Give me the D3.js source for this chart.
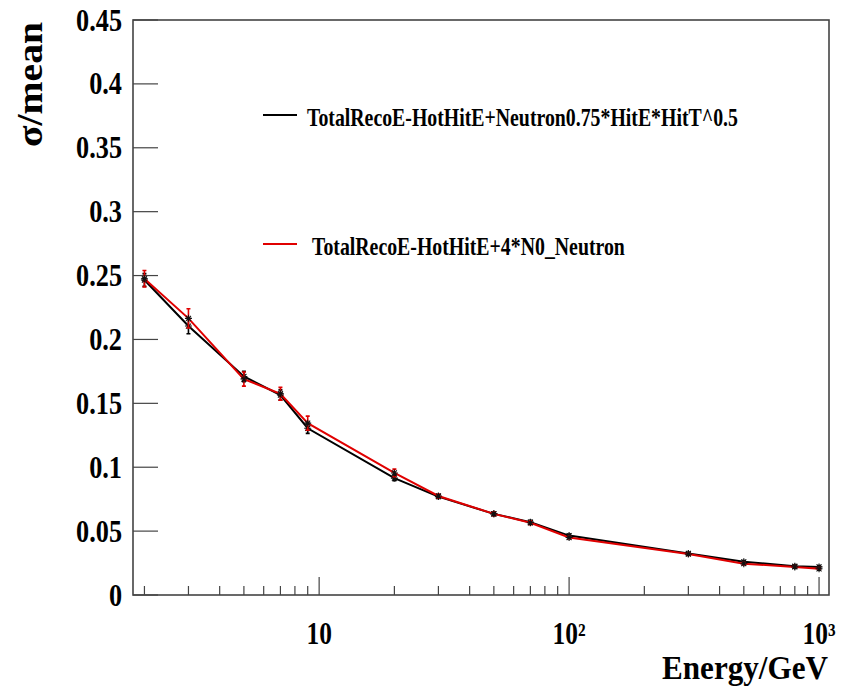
<!DOCTYPE html>
<html><head><meta charset="utf-8">
<script src="https://cdn.jsdelivr.net/npm/d3@7"></script>
<style>body{margin:0;background:#fff}svg{display:block}text{font-family:"Liberation Serif","Times New Roman",serif;font-weight:bold;fill:#000}</style>
</head><body><svg id="c" width="852" height="691"></svg>
<script>
const energies = [2, 3, 5, 7, 9, 20, 30, 50, 70, 100, 300, 500, 800, 1000];
const blackValues = [0.2465, 0.2105, 0.171, 0.1565, 0.1305, 0.0915, 0.077, 0.0635, 0.057, 0.0465, 0.0325, 0.026, 0.0225, 0.022];
const blackErrors = [0.005, 0.006, 0.004, 0.004, 0.004, 0.002, 0.0015, 0.0015, 0.0015, 0.0012, 0.001, 0.001, 0.001, 0.001];
const redValues = [0.2475, 0.2165, 0.169, 0.1575, 0.1345, 0.0955, 0.0775, 0.0635, 0.0565, 0.045, 0.032, 0.0245, 0.022, 0.0205];
const redErrors = [0.0065, 0.0075, 0.0055, 0.005, 0.0055, 0.003, 0.0015, 0.0015, 0.0015, 0.0012, 0.001, 0.001, 0.001, 0.001];
const yTicks = [0, 0.05, 0.1, 0.15, 0.2, 0.25, 0.3, 0.35, 0.4, 0.45];
const yTickLabels = ["0", "0.05", "0.1", "0.15", "0.2", "0.25", "0.3", "0.35", "0.4", "0.45"];
const xMajor = [10, 100, 1000];
const xMajorLabels = ["10", "10²", "10³"];
const legendLabels = ["TotalRecoE-HotHitE+Neutron0.75*HitE*HitT^0.5", "TotalRecoE-HotHitE+4*N0_Neutron"];
const seriesColors = ["#000000", "#e00000"];
const xTitle = "Energy/GeV";
const yTitle = "σ/mean";

const svg = d3.select("#c");
const L = 133, R = 829, T = 20, B = 595;
const x = d3.scaleLog().domain([1.8, 1096]).range([L, R]);
const y = d3.scaleLinear().domain([0, 0.45]).range([B, T]);

function squeeze(sel, k) {
  sel.each(function () {
    const len = this.getComputedTextLength();
    d3.select(this).attr("textLength", len * k).attr("lengthAdjust", "spacingAndGlyphs");
  });
}
function fitTo(sel, w) {
  sel.attr("textLength", w).attr("lengthAdjust", "spacingAndGlyphs");
}

const axisColor = "#444";
svg.append("rect").attr("x", L).attr("y", T).attr("width", R - L).attr("height", B - T)
  .attr("fill", "none").attr("stroke", axisColor).attr("stroke-width", 1.6);

svg.selectAll(".yt").data(yTicks).enter().append("line")
  .attr("x1", L).attr("x2", L + 25).attr("y1", d => y(d)).attr("y2", d => y(d))
  .attr("stroke", axisColor).attr("stroke-width", 1.2);
const yl = svg.selectAll(".yl").data(yTicks).enter().append("text")
  .attr("x", 122).attr("y", d => y(d) + 10.5).attr("text-anchor", "end")
  .attr("font-size", 32).text((d, i) => yTickLabels[i]);
squeeze(yl, 0.82);

const minor = [];
for (let dec = 1; dec <= 1000; dec *= 10) {
  for (let m = 1; m <= 9; m++) {
    const v = m * dec;
    if (v >= 1.8 && v <= 1096) minor.push(v);
  }
}
svg.selectAll(".xt").data(minor).enter().append("line")
  .attr("x1", d => x(d)).attr("x2", d => x(d))
  .attr("y1", B).attr("y2", d => xMajor.includes(d) ? B - 18 : B - 9)
  .attr("stroke", axisColor).attr("stroke-width", 1.2);

const xl = svg.selectAll(".xl").data(xMajor).enter().append("text")
  .attr("x", d => x(d)).attr("y", 644).attr("text-anchor", "middle")
  .attr("font-size", 31).text((d, i) => xMajorLabels[i]);
squeeze(xl, 0.82);

const xt = svg.append("text").attr("x", 828).attr("y", 679).attr("text-anchor", "end")
  .attr("font-size", 33).text(xTitle);
fitTo(xt, 166);
const ytt = svg.append("text").attr("transform", "translate(42,22) rotate(-90)")
  .attr("text-anchor", "end").attr("font-size", 36).text(yTitle);
fitTo(ytt, 125);

const series = [
  { vals: blackValues, errs: blackErrors, color: seriesColors[0] },
  { vals: redValues, errs: redErrors, color: seriesColors[1] }
];
const line = d3.line().x(d => x(d[0])).y(d => y(d[1]));
series.forEach(s => {
  const pts = energies.map((e, i) => [e, s.vals[i], s.errs[i]]);
  const g = svg.append("g");
  g.append("path").datum(pts).attr("d", line).attr("fill", "none")
    .attr("stroke", s.color).attr("stroke-width", 2);
  g.selectAll(".eb").data(pts).enter().append("path")
    .attr("d", d => {
      const xx = x(d[0]), y1 = y(d[1] - d[2]), y2 = y(d[1] + d[2]);
      return `M${xx},${y1}V${y2}M${xx - 2},${y1}H${xx + 2}M${xx - 2},${y2}H${xx + 2}`;
    })
    .attr("stroke", s.color).attr("stroke-width", 1.6).attr("fill", "none");
  g.selectAll(".mk").data(pts).enter().append("path")
    .attr("d", d => {
      const xx = x(d[0]), yy = y(d[1]), r = 3.5, q = 2.5;
      return `M${xx - r},${yy}H${xx + r}M${xx},${yy - r}V${yy + r}M${xx - q},${yy - q}L${xx + q},${yy + q}M${xx - q},${yy + q}L${xx + q},${yy - q}`;
    })
    .attr("stroke", "#111").attr("stroke-width", 1.1).attr("fill", "none");
});

const legY = [115, 244];
const legTextX = [307, 312];
const legW = [431, 313];
legendLabels.forEach((lab, i) => {
  svg.append("line").attr("x1", 263).attr("x2", 297).attr("y1", legY[i]).attr("y2", legY[i])
    .attr("stroke", seriesColors[i]).attr("stroke-width", 2);
  const g = svg.append("g");
  const t = g.append("text").attr("x", 0).attr("y", 0).attr("font-size", 26).text(lab);
  const natural = t.node().getComputedTextLength();
  g.attr("transform", `translate(${legTextX[i]},${legY[i] + 11}) scale(${legW[i] / natural},1)`);
});
</script></body></html>
